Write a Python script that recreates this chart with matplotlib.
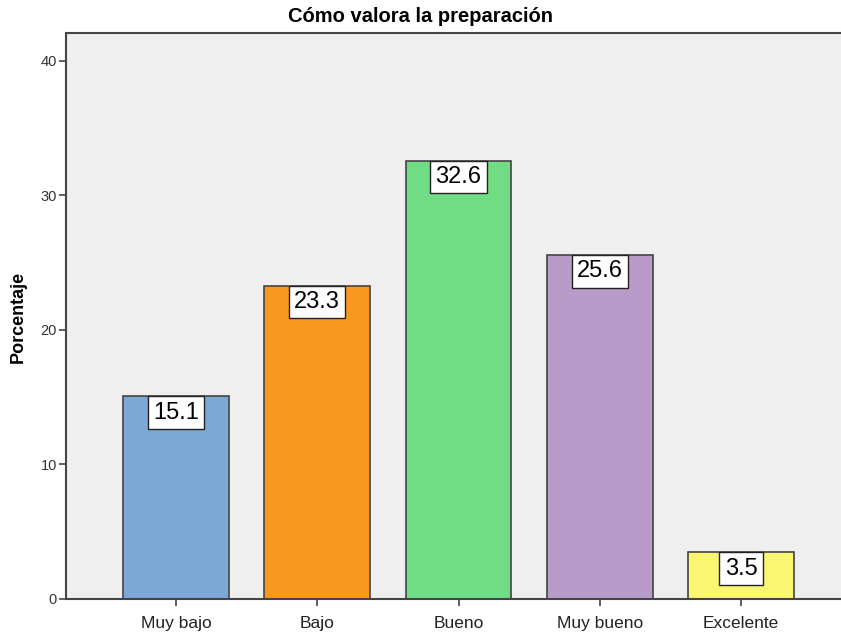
import matplotlib
matplotlib.use("Agg")
import matplotlib.pyplot as plt

categorias = ["Muy bajo", "Bajo", "Bueno", "Muy bueno", "Excelente"]
porcentajes = [15.1, 23.3, 32.6, 25.6, 3.5]
colores = ["#7BA8D5", "#F8981F", "#70DC84", "#B89BC9", "#FAF671"]
yticks = [0, 10, 20, 30, 40]

plt.rcParams['font.family'] = ['Liberation Sans', 'DejaVu Sans']

fig = plt.figure(figsize=(8.41, 6.36), dpi=100)
ax = fig.add_axes([66/841, 37/636, 785/841, 566/636])
ax.set_facecolor("#EFEFEF")

x = list(range(len(categorias)))
ax.bar(x, porcentajes, width=0.75, color=colores, edgecolor="#444444", linewidth=1.2, zorder=2)

for i, v in enumerate(porcentajes):
    ax.annotate(f"{v:.1f}", xy=(i, v), xytext=(0, -12), textcoords="offset points",
                ha="center", va="center", fontsize=17, color="black", zorder=3,
                bbox=dict(boxstyle="square,pad=0.22", fc="white", ec="#222222", lw=1))

ax.set_xlim(-0.779, 4.779)
ax.set_ylim(0, 42.08)
ax.set_xticks(x)
ax.set_xticklabels(categorias, fontsize=12.5, color="#222222")
ax.set_yticks(yticks)
ax.set_yticklabels([str(t) for t in yticks], fontsize=10.5, color="#333333")
ax.tick_params(axis="both", direction="out", length=5, width=1.2, color="#444444", pad=1.5)
ax.tick_params(axis="x", pad=7)

for s in ["left", "bottom", "top", "right"]:
    ax.spines[s].set_color("#444444")
    ax.spines[s].set_linewidth(1.5)

fig.text(18/841, 1 - 317/636, "Porcentaje", rotation=90, ha="center", va="center",
         fontsize=13, fontweight="bold")
fig.text(0.5, 1 - 17/636, "Cómo valora la preparación", ha="center", va="center",
         fontsize=14.5, fontweight="bold")

fig.savefig("out.png", dpi=100)
